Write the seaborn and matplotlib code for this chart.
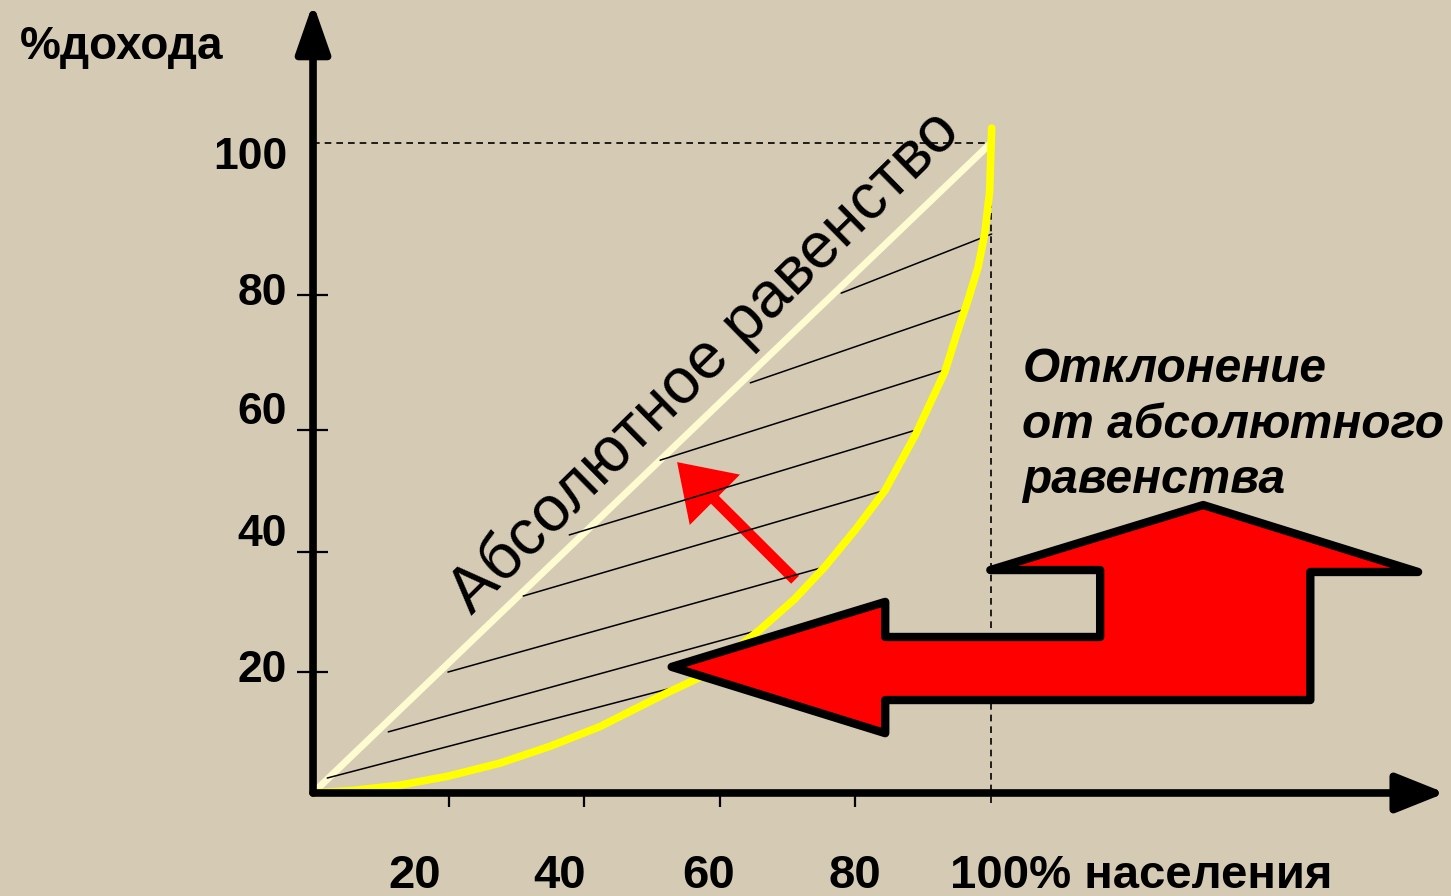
import matplotlib
matplotlib.use("Agg")
import matplotlib.pyplot as plt
from matplotlib.patches import Polygon
import seaborn as sns

# =========================
# DATA
# =========================

# Lorenz curve: % of population vs % of income
population = [0, 6, 12.8, 20, 27.6, 35, 42.3, 52.2, 57.1, 65.9, 71, 75.5, 80,
              84.4, 88.8, 93.2, 95.0, 96.6, 98.1, 99.1, 99.8, 100.1]
income = [0, 0.4, 1.2, 2.6, 4.6, 7.2, 10.2, 15.4, 17.8, 25.1, 29.8, 34.8, 40.5,
          46.6, 55.0, 64.8, 70.8, 75.8, 80.9, 86.2, 92.5, 102.3]

# line of absolute equality
equal_x = [0, 100]
equal_y = [0, 100]

# hatch lines between the two curves (start x, start y, end x, end y)
hatch_x0 = [2.1, 11.1, 19.9, 31.0, 37.8, 51.2, 64.5, 77.9]
hatch_y0 = [2.3, 9.4, 18.6, 30.3, 39.7, 51.2, 63.1, 76.9]
hatch_x1 = [53.1, 65.9, 75.5, 84.4, 88.8, 93.2, 95.7, 100.1]
hatch_y1 = [16.2, 25.1, 34.8, 46.6, 55.8, 65.1, 74.3, 86.0]

# axis ticks and labels
x_ticks = [20, 40, 60, 80, 100]
x_labels = ["20", "40", "60", "80"]
x_label_pos = [15.0, 36.4, 58.3, 79.9]
y_ticks = [18.6, 37.1, 55.8, 76.6]
y_labels = ["20", "40", "60", "80", "100"]
y_label_pos = [18.9, 39.7, 58.5, 76.9, 97.8]

# big bent red arrow outline
arrow_x = [52.9, 84.4, 84.4, 116.1, 116.1, 99.9, 131.3, 163.0, 147.1, 147.1, 84.4, 84.4]
arrow_y = [19.4, 29.4, 24.0, 24.0, 34.3, 34.3, 44.3, 34.0, 34.0, 14.3, 14.3, 9.2]

BG = "#d5cab4"

# =========================
# FIGURE
# =========================

sns.set_theme(style="white")
plt.rcParams["font.family"] = ["Liberation Sans", "DejaVu Sans"]
plt.rcParams["text.color"] = "black"

fig = plt.figure(figsize=(14.51, 8.96), dpi=100, facecolor=BG)
ax = fig.add_axes([0, 0, 1, 1])
ax.set_facecolor(BG)
ax.set_xlim(-46.17, 167.85)
ax.set_ylim(-15.85, 122.0)
ax.axis("off")

# dashed guides at 100%
ax.plot([0, 100], [100, 100], color="black", lw=1.2, ls=(0, (4, 3)), zorder=2)
ax.plot([100, 100], [100, -2.3], color="black", lw=1.2, ls=(0, (4, 3)), zorder=2)

# axes with arrows
ax.annotate("", xy=(167.0, 0), xytext=(0, 0),
            arrowprops=dict(arrowstyle="-|>,head_length=1.0,head_width=0.4",
                            lw=5.5, color="black", mutation_scale=30,
                            shrinkA=0, shrinkB=0), zorder=6)
ax.annotate("", xy=(0, 121.5), xytext=(0, 0),
            arrowprops=dict(arrowstyle="-|>,head_length=1.0,head_width=0.35",
                            lw=5.5, color="black", mutation_scale=30,
                            shrinkA=0, shrinkB=0), zorder=6)

ax.vlines(x_ticks[:-1], -2.2, 0, color="black", lw=1.6, zorder=6)
ax.hlines(y_ticks, -2.3, 2.2, color="black", lw=1.6, zorder=6)

# curves
sns.lineplot(x=equal_x, y=equal_y, ax=ax, color="#fdfbcf", lw=5,
             sort=False, estimator=None, zorder=3)
sns.lineplot(x=population, y=income, ax=ax, color="#ffff00", lw=5.5,
             sort=False, estimator=None, zorder=4)

# small red arrow pointing to the equality line
ax.annotate("", xy=(53.7, 50.9), xytext=(71.1, 32.8),
            arrowprops=dict(arrowstyle="simple,head_length=1.2,head_width=1.6,tail_width=0.25",
                            color="#ff0000", lw=0, mutation_scale=32,
                            shrinkA=0, shrinkB=0), zorder=3)

for x0, y0, x1, y1 in zip(hatch_x0, hatch_y0, hatch_x1, hatch_y1):
    ax.plot([x0, x1], [y0, y1], color="black", lw=1.1, zorder=3.5)

# big bent arrow
ax.add_patch(Polygon(list(zip(arrow_x, arrow_y)), closed=True, facecolor="#ff0000",
                     edgecolor="black", lw=6, joinstyle="round", zorder=7))

# =========================
# TEXT
# =========================

ax.text(-43.2, 114.8, "%дохода", fontsize=33, fontweight="bold",
        ha="left", va="center")

for lab, y in zip(y_labels, y_label_pos):
    ax.text(-3.8, y, lab, fontsize=32, fontweight="bold", ha="right", va="center")

for lab, x in zip(x_labels, x_label_pos):
    ax.text(x, -12.8, lab, fontsize=34, fontweight="bold", ha="center", va="center")
ax.text(94.0, -12.8, "100% населения", fontsize=34, fontweight="bold",
        ha="left", va="center")

ax.text(57.8, 66.3, "Абсолютное равенство", fontsize=46, rotation=44.5,
        rotation_mode="anchor", ha="center", va="center", zorder=5)

ax.text(104.6, 68.6, "Отклонение\nот абсолютного\nравенства", fontsize=34.5,
        fontweight="bold", fontstyle="italic", ha="left", va="top",
        linespacing=1.3)

fig.savefig("out.png", dpi=100, facecolor=BG)
